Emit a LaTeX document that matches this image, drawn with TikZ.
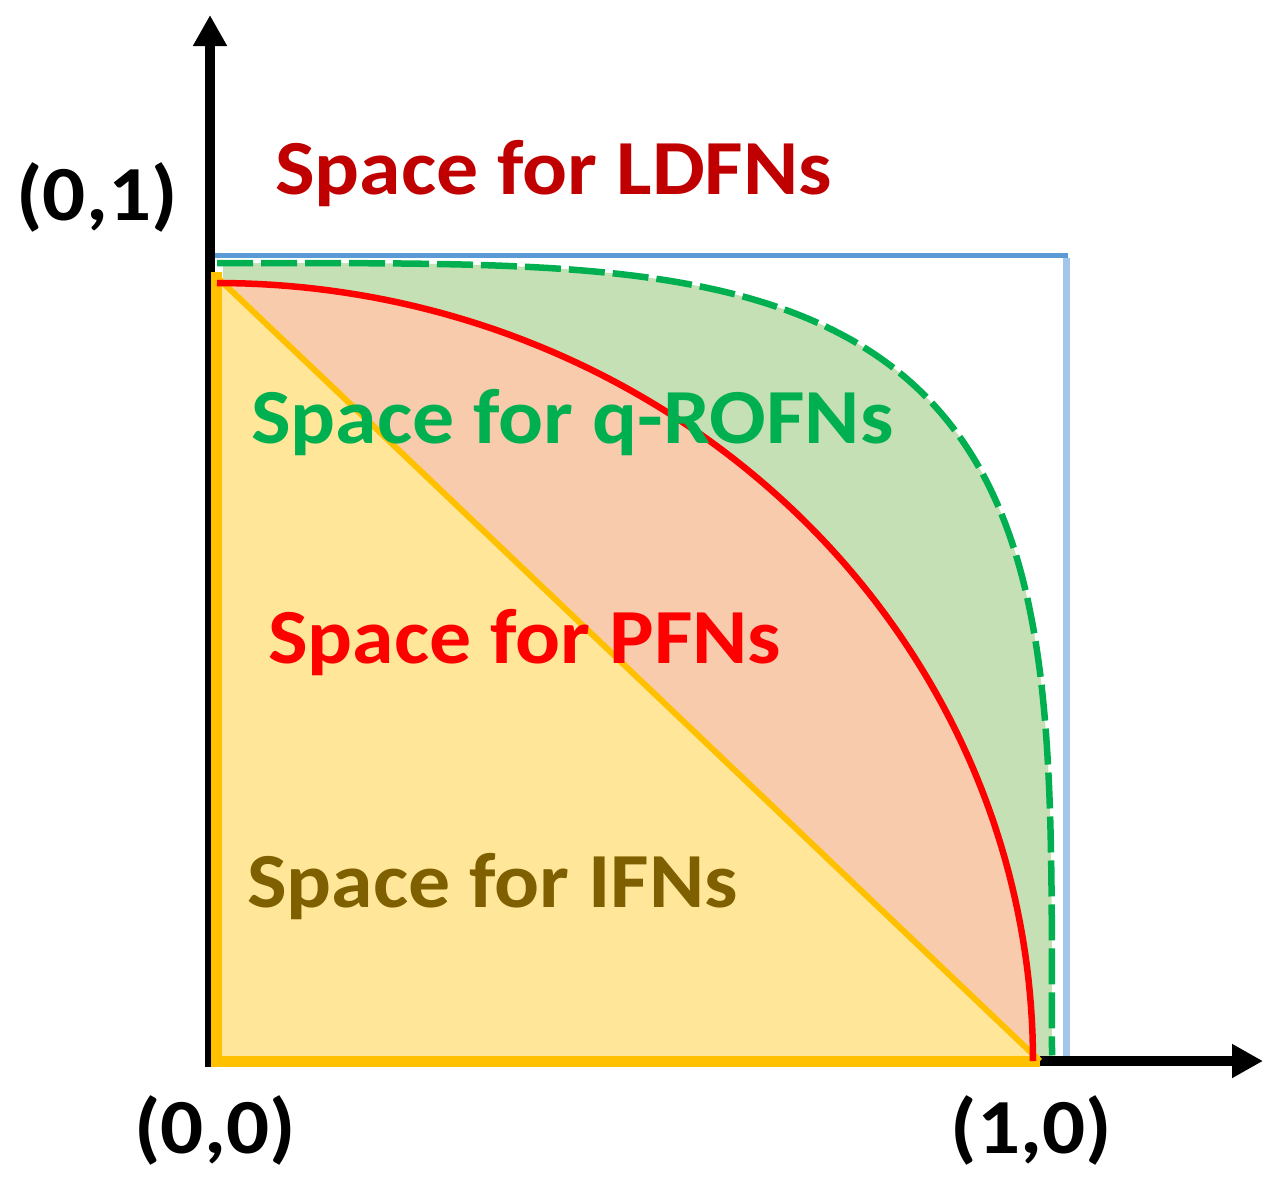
\documentclass[tikz,border=0pt]{standalone}
\usepackage{fontspec}
\setmainfont{Carlito}
\usetikzlibrary{arrows.meta}
\definecolor{ldfncol}{HTML}{C00000}
\definecolor{qcol}{HTML}{00B050}
\definecolor{qfill}{HTML}{C5E0B4}
\definecolor{pcol}{HTML}{FF0000}
\definecolor{pfill}{HTML}{F8CBAD}
\definecolor{icol}{HTML}{7F6000}
\definecolor{ifill}{HTML}{FFE699}
\definecolor{iedge}{HTML}{FFC000}
\definecolor{bluetop}{HTML}{5B9BD5}
\definecolor{blueside}{HTML}{A4C6EA}
\begin{document}
\begin{tikzpicture}[x=1pt,y=-1pt,
  lbl/.style={font=\fontsize{78}{80}\selectfont\bfseries, inner sep=0pt, anchor=base west, xscale=1.075},
  coordlbl/.style={font=\fontsize{78}{80}\selectfont\bfseries, inner sep=0pt, anchor=base, text=black, xscale=1.09},
  axisline/.style={line width=10pt, draw=black, -{Triangle[length=31pt,width=32pt]}}]
\useasboundingbox (0,0) rectangle (1284,1194);
% coordinates
\coordinate (Oy) at (210,1067);
\coordinate (Ox) at (205,1061);
\coordinate (ytip) at (210,15);
\coordinate (xtip) at (1263,1061);
\coordinate (B1) at (212,255);
\coordinate (B2) at (1068,255);
\coordinate (B3) at (1066,1058);
\coordinate (Yo) at (216.5,1061.5);
\coordinate (Ytop) at (216.5,272);
\coordinate (Yright) at (1040,1061.5);
\coordinate (Yd1) at (217,277);
\coordinate (Yd2) at (1040,1061);
% fills
\fill[qfill] (217,1061) -- plot[domain=0:90, samples=240, variable=\t]
  ({217+835*sqrt(abs(cos(\t)))}, {1061-798*sqrt(abs(sin(\t)))}) -- cycle;
\fill[pfill] (217,1061) -- plot[domain=0:90, samples=180, variable=\t]
  ({217+816*cos(\t)}, {1061-778*sin(\t)}) -- cycle;
\fill[ifill] (Yo) -- (Ytop) -- (Yright) -- cycle;
% blue boundary
\draw[bluetop, line width=5pt] (B1) -- (B2);
\draw[blueside, line width=7pt] (1066,257.5) -- (B3);
% axes
\draw[axisline] (Oy) -- (ytip);
\draw[axisline] (Ox) -- (xtip);
% yellow edges
\draw[iedge, line width=6pt] (Yd1) -- (Yd2);
\draw[iedge, line width=11pt] (Ytop) -- (Yo) -- (Yright);
% curves
\draw[pcol, line width=6.5pt] plot[domain=0:90, samples=180, variable=\t]
  ({217+816*cos(\t)}, {1061-778*sin(\t)});
\draw[qcol, line width=6.5pt, dash pattern=on 36pt off 8pt] plot[domain=90:0, samples=240, variable=\t]
  ({217+835*sqrt(abs(cos(\t)))}, {1061-798*sqrt(abs(sin(\t)))});
% labels
\node[lbl, text=ldfncol] (ldfn) at (275,194) {Space for LDFNs};
\node[lbl, text=qcol] (qrofn) at (251,443) {Space for q-ROFNs};
\node[lbl, text=pcol] (pfn) at (268,663) {Space for PFNs};
\node[lbl, text=icol] (ifn) at (247,907) {Space for IFNs};
\node[coordlbl] (c01) at (97,220) {(0,1)};
\node[coordlbl] (c00) at (215,1153) {(0,0)};
\node[coordlbl] (c10) at (1031,1153) {(1,0)};
\end{tikzpicture}
\end{document}
